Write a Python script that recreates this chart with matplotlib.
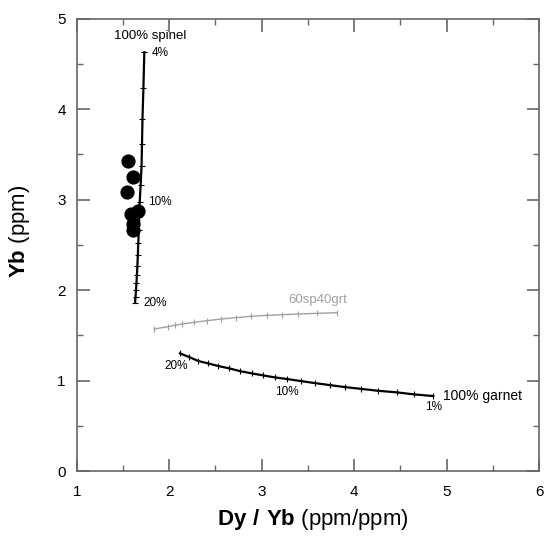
import matplotlib.pyplot as plt
from matplotlib.ticker import MultipleLocator

plt.rcParams['font.family'] = ['Liberation Sans', 'DejaVu Sans']
plt.rcParams['mathtext.fontset'] = 'custom'
plt.rcParams['mathtext.rm'] = 'Liberation Sans'
plt.rcParams['mathtext.bf'] = 'Liberation Sans:bold'

# melting curves (Dy/Yb, Yb)
spinel_x = [1.73, 1.72, 1.71, 1.705, 1.70, 1.69, 1.68, 1.675, 1.67, 1.665,
            1.66, 1.655, 1.65, 1.645, 1.64, 1.635, 1.63]
spinel_y = [4.63, 4.23, 3.89, 3.62, 3.37, 3.16, 2.97, 2.81, 2.66, 2.52,
            2.39, 2.27, 2.17, 2.08, 2.00, 1.93, 1.86]

garnet_x = [2.115, 2.215, 2.313, 2.421, 2.529, 2.648, 2.764, 2.890, 3.016, 3.143,
            3.276, 3.421, 3.576, 3.738, 3.900, 4.070, 4.261, 4.460, 4.650, 4.856]
garnet_y = [1.302, 1.261, 1.217, 1.191, 1.162, 1.136, 1.106, 1.081, 1.058, 1.036,
            1.018, 0.996, 0.973, 0.951, 0.929, 0.910, 0.888, 0.871, 0.848, 0.830]

mix_x = [1.837, 1.982, 2.061, 2.140, 2.270, 2.404, 2.558, 2.718, 2.883, 3.053,
         3.215, 3.395, 3.594, 3.810]
mix_y = [1.571, 1.596, 1.612, 1.626, 1.645, 1.663, 1.681, 1.696, 1.711, 1.722,
         1.729, 1.737, 1.744, 1.751]

# samples
sample_x = [1.549, 1.603, 1.538, 1.657, 1.584, 1.603, 1.609]
sample_y = [3.43, 3.25, 3.09, 2.88, 2.84, 2.73, 2.67]

fig = plt.figure(figsize=(5.45, 5.36), dpi=100)
ax = fig.add_axes([0.141, 0.121, 0.848, 0.844])

ax.plot(mix_x, mix_y, color='#a0a0a0', lw=1.0, marker='|', ms=5, mew=0.8)
ax.plot(garnet_x, garnet_y, color='black', lw=1.6, marker='|', ms=5, mew=0.8)
ax.plot(spinel_x, spinel_y, color='black', lw=1.6, marker='_', ms=5, mew=0.8)
ax.scatter(sample_x, sample_y, s=85, color='black', zorder=3)

# curve labels
ax.text(1.795, 4.81, '100% spinel', fontsize=9.5, ha='center', va='center')
ax.text(1.81, 4.62, '4%', fontsize=8.5, ha='left', va='center')
ax.text(1.77, 2.97, '10%', fontsize=8.5, ha='left', va='center')
ax.text(1.72, 1.86, '20%', fontsize=8.5, ha='left', va='center')

ax.text(3.61, 1.89, '60sp40grt', fontsize=9.5, ha='center', va='center', color='#a0a0a0')

ax.text(2.08, 1.16, '20%', fontsize=8.5, ha='center', va='center')
ax.text(3.27, 0.875, '10%', fontsize=8.5, ha='center', va='center')
ax.text(4.86, 0.705, '1%', fontsize=8.5, ha='center', va='center')
ax.text(4.96, 0.83, '100% garnet', fontsize=10, ha='left', va='center')

ax.set_xlim(1, 6)
ax.set_ylim(0, 5)
ax.xaxis.set_major_locator(MultipleLocator(1))
ax.xaxis.set_minor_locator(MultipleLocator(0.5))
ax.yaxis.set_major_locator(MultipleLocator(1))
ax.yaxis.set_minor_locator(MultipleLocator(0.5))

for s in ax.spines.values():
    s.set_color('#666666')
    s.set_linewidth(1.2)
ax.tick_params(which='both', direction='in', top=True, right=True, colors='#666666',
               labelcolor='black', labelsize=11)
ax.tick_params(which='major', length=9, width=1.2)
ax.tick_params(which='minor', length=4.5, width=1.0)
ax.tick_params(axis='x', pad=10)
ax.tick_params(axis='y', pad=8)

ax.set_xlabel(r'$\bf{Dy\ /\ Yb}$ (ppm/ppm)', fontsize=16, va='center')
ax.set_ylabel(r'$\bf{Yb}$ (ppm)', fontsize=16, va='center')
ax.xaxis.set_label_coords(0.51, -0.106)
ax.yaxis.set_label_coords(-0.123, 0.53)

fig.savefig('out.png', dpi=100)
